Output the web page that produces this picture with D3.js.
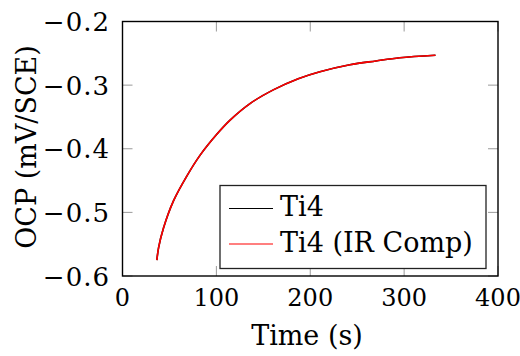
<!DOCTYPE html>
<html><head><meta charset="utf-8">
<script src="https://d3js.org/d3.v7.min.js"></script>
<style>
  body { margin: 0; background: #fff; }
</style>
</head>
<body>
<div id="chart"></div>
<script>
// data
var time = [36.6, 38.5, 43.6, 54.3, 68.5, 82.7, 100, 114.6, 135.8, 160.6, 187.2, 210.3, 242.2, 270, 295.4, 333.4];
var ti4 = [-0.575, -0.555, -0.525, -0.482, -0.443, -0.410, -0.378, -0.355, -0.329, -0.3075, -0.290, -0.279, -0.268, -0.262, -0.257, -0.253];
var ti4IR = [-0.575, -0.555, -0.525, -0.482, -0.443, -0.410, -0.378, -0.355, -0.329, -0.3075, -0.290, -0.279, -0.268, -0.262, -0.257, -0.253];
var seriesNames = ["Ti4", "Ti4 (IR Comp)"];
var seriesColors = ["#000000", "#ff0000"];
var xTicks = [0, 100, 200, 300, 400];
var yTicks = [-0.6, -0.5, -0.4, -0.3, -0.2];

var width = 520, height = 356;
var plotL = 122.5, plotR = 498, plotT = 21.5, plotB = 276;
var font = "'DejaVu Serif', 'Liberation Serif', serif";

var svg = d3.select("#chart").append("svg")
  .attr("width", width)
  .attr("height", height)
  .attr("font-family", font);

var x = d3.scaleLinear().domain([0, 400]).range([plotL, plotR]);
var y = d3.scaleLinear().domain([-0.6, -0.2]).range([plotB, plotT]);

var fs = 27;

// ticks (inside, all four sides)
var tickLen = 10;
var ticks = svg.append("g").attr("stroke", "#9a9a9a").attr("stroke-width", 1);
xTicks.forEach(function (t) {
  ticks.append("line").attr("x1", x(t)).attr("x2", x(t)).attr("y1", plotB).attr("y2", plotB - tickLen);
  ticks.append("line").attr("x1", x(t)).attr("x2", x(t)).attr("y1", plotT).attr("y2", plotT + tickLen);
});
yTicks.forEach(function (t) {
  ticks.append("line").attr("x1", plotL).attr("x2", plotL + tickLen).attr("y1", y(t)).attr("y2", y(t));
  ticks.append("line").attr("x1", plotR).attr("x2", plotR - tickLen).attr("y1", y(t)).attr("y2", y(t));
});

// tick labels
var fmtY = d3.format(".1f");
svg.append("g").selectAll("text").data(xTicks).enter().append("text")
  .attr("x", function (d) { return x(d); })
  .attr("y", 306)
  .attr("text-anchor", "middle")
  .attr("font-family", font)
  .attr("font-size", 24)
  .text(function (d) { return d; });

svg.append("g").selectAll("text").data(yTicks).enter().append("text")
  .attr("x", 110)
  .attr("y", function (d) { return y(d) + 9.5; })
  .attr("text-anchor", "end")
  .attr("font-family", font)
  .attr("font-size", 26)
  .attr("letter-spacing", 1)
  .text(function (d) { return fmtY(d); });

// curves
var line = d3.line()
  .x(function (d) { return x(d[0]); })
  .y(function (d) { return y(d[1]); })
  .curve(d3.curveCatmullRom.alpha(0.5));

[ti4, ti4IR].forEach(function (vals, i) {
  svg.append("path")
    .datum(time.map(function (t, j) { return [t, vals[j]]; }))
    .attr("d", line)
    .attr("fill", "none")
    .attr("stroke", seriesColors[i])
    .attr("stroke-width", 1.6);
});

// frame
svg.append("rect")
  .attr("x", plotL).attr("y", plotT)
  .attr("width", plotR - plotL).attr("height", plotB - plotT)
  .attr("fill", "none")
  .attr("stroke", "#000")
  .attr("stroke-width", 1.4);

// legend
var lg = svg.append("g");
lg.append("rect")
  .attr("x", 220).attr("y", 185.5)
  .attr("width", 266).attr("height", 83)
  .attr("fill", "#fff")
  .attr("stroke", "#222")
  .attr("stroke-width", 1.3);
var rowY = [208.5, 244];
seriesNames.forEach(function (name, i) {
  lg.append("line")
    .attr("x1", 229).attr("x2", 273)
    .attr("y1", rowY[i]).attr("y2", rowY[i])
    .attr("stroke", seriesColors[i])
    .attr("stroke-width", 1.2);
  lg.append("text")
    .attr("x", 280).attr("y", rowY[i] + 7.5)
    .attr("font-family", font)
    .attr("font-size", fs)
    .text(name);
});

// axis labels
svg.append("text")
  .attr("x", 307).attr("y", 345)
  .attr("text-anchor", "middle")
  .attr("font-family", font)
  .attr("font-size", fs)
  .text("Time (s)");

svg.append("text")
  .attr("transform", "translate(36,147) rotate(-90)")
  .attr("text-anchor", "middle")
  .attr("font-family", font)
  .attr("font-size", fs)
  .text("OCP (mV/SCE)");
</script>
</body></html>
